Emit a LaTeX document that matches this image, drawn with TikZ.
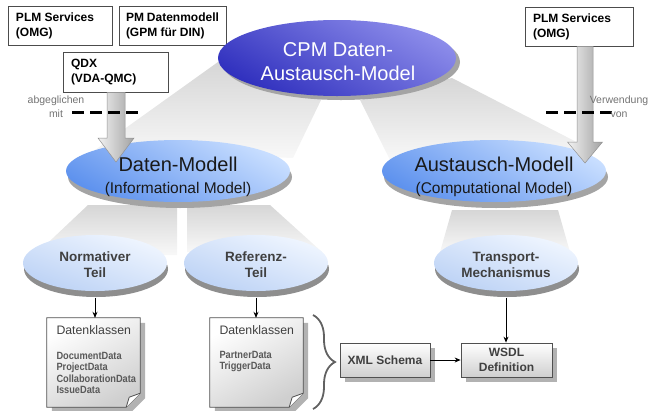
\documentclass[tikz,border=0pt]{standalone}
\usepackage{fontspec}
\setmainfont{Liberation Sans}
\newfontfamily\narrowsans[FakeStretch=0.88]{Liberation Sans}
\usetikzlibrary{shapes.geometric,shadows,calc,decorations.pathreplacing,arrows.meta}
\definecolor{cpmtop}{HTML}{8C8CEA}
\definecolor{cpmbot}{HTML}{3030BE}
\definecolor{dmtop}{HTML}{C8DEFF}
\definecolor{dmbot}{HTML}{5E92EE}
\definecolor{smtop}{HTML}{F0F6FF}
\definecolor{smbot}{HTML}{BCD2F5}
\definecolor{rim}{HTML}{A4A4A4}
\definecolor{rimdark}{HTML}{8E8E8E}
\definecolor{beamtop}{HTML}{D6D6D6}
\definecolor{beambot}{HTML}{F8F8F8}
\definecolor{txtgray}{HTML}{404040}
\definecolor{boxline}{HTML}{505050}
\definecolor{boxbot}{HTML}{CFCFCF}
\definecolor{shadowgray}{HTML}{B2B2B2}
\definecolor{arrowlight}{HTML}{F2F2F2}
\definecolor{arrowdark}{HTML}{A2A2A2}
\begin{document}
\begin{tikzpicture}[x=1pt,y=-1pt,
  topbox/.style={draw=black!70, fill=white, line width=0.8pt, inner xsep=8pt, inner ysep=0pt,
    minimum height=39pt, align=flush left, font=\bfseries\fontsize{12}{15}\selectfont},
  cpmell/.style={ellipse, inner sep=0pt, minimum width=238pt, minimum height=76pt,
    top color=cpmtop, bottom color=cpmbot, shading angle=-30,
    drop shadow={shadow xshift=4pt, shadow yshift=-4pt, fill=rim, opacity=1}},
  bigell/.style={ellipse, inner sep=0pt, minimum width=224pt, minimum height=62pt,
    top color=dmtop, bottom color=dmbot, shading angle=-30,
    drop shadow={shadow xshift=2pt, shadow yshift=-6pt, fill=rim, opacity=1}},
  smallell/.style={ellipse, inner sep=0pt, minimum width=144pt, minimum height=56pt,
    top color=smtop, bottom color=smbot, shading angle=-20,
    drop shadow={shadow xshift=1pt, shadow yshift=-6pt, fill=rimdark, opacity=1}},
  bigtext/.style={align=center, inner sep=0pt, font=\fontsize{20}{22}\selectfont},
  smalltext/.style={align=center, inner sep=0pt, text=txtgray, font=\bfseries\fontsize{13.5}{16}\selectfont},
  beam/.style={top color=beamtop, bottom color=beambot},
  bigarrow/.style={left color=arrowlight, right color=arrowdark, draw=arrowdark!90!black, line width=0.5pt},
  dashline/.style={line width=3pt, dash pattern=on 12pt off 6pt},
  sidetext/.style={align=center, inner sep=0pt, text=black!55, font=\fontsize{10.5}{14}\selectfont},
  conn/.style={line width=0.8pt, -{Stealth[length=6pt,width=5pt]}},
  docbox/.style={draw=none, inner sep=0pt, minimum width=93pt, minimum height=89pt},
  docshape/.style={draw=boxline, line width=0.8pt, top color=white, bottom color=boxbot, shading angle=30},
  doctitle/.style={anchor=base west, inner sep=0pt, text=txtgray, font=\fontsize{12.3}{14}\selectfont},
  docitems/.style={anchor=north west, inner sep=0pt, align=left, text=black!65,
    font=\narrowsans\bfseries\fontsize{10.5}{11.5}\selectfont},
  flowbox/.style={draw=boxline, line width=0.8pt, top color=white, bottom color=boxbot,
    minimum height=34pt, inner sep=0pt, align=center, text=txtgray,
    font=\bfseries\fontsize{12}{15}\selectfont,
    drop shadow={shadow xshift=5pt, shadow yshift=-5pt, fill=shadowgray, opacity=1}},
  bracestyle/.style={draw=black!62, line width=1.8pt, decorate, decoration={brace, amplitude=22pt}}
]
\useasboundingbox (0,0) rectangle (650,410);

% light grey "beams"
\shade[beam] (218,62) -- (322,98) -- (293,158) -- (95,150) -- cycle;
\shade[beam] (360,100) -- (452,78) -- (592,150) -- (390,160) -- cycle;
\shade[beam] (88,205) -- (177,205) -- (177,255) -- (35,255) -- cycle;
\shade[beam] (187,205) -- (270,205) -- (322,252) -- (187,252) -- cycle;
\shade[beam] (452,210) -- (558,210) -- (570,252) -- (440,252) -- cycle;

% top boxes
\node[topbox, minimum width=104pt, text width=88pt] (plml) at (60,25.5) {PLM Services\\(OMG)};
\node[topbox, minimum width=107pt, text width=93pt, inner xsep=7pt] (pmd) at (172.5,25.5) {PM Datenmodell\\(GPM f\"ur DIN)};
\node[topbox, minimum width=105pt, text width=89pt, minimum height=40pt] (qdx) at (115.5,72) {QDX\\(VDA-QMC)};
\node[topbox, minimum width=108pt, text width=92pt] (plmr) at (579,26.5) {PLM Services\\(OMG)};

% main ellipses
\node[cpmell] (cpm) at (337,58) {};
\node[bigtext, text=white, font=\fontsize{20}{24}\selectfont] (cpmt) at (338,62) {CPM Daten-\\Austausch-Model};

\node[bigell] (dm) at (178,171) {};
\node[bigtext, text=black!90, font=\fontsize{20}{22.5}\selectfont] (dmt) at (178,177) {Daten-Modell\\{\fontsize{15.5}{18}\selectfont (Informational Model)}};
\node[bigell] (am) at (494,171) {};
\node[bigtext, text=black!90, font=\fontsize{20}{22.5}\selectfont] (amt) at (494,177) {Austausch-Modell\\{\fontsize{15.5}{18}\selectfont (Computational Model)}};

\node[smallell] (nt) at (95,263) {};
\node[smalltext] (ntt) at (95,265) {Normativer\\Teil};
\node[smallell] (rt) at (256,263) {};
\node[smalltext] (rtt) at (256,265) {Referenz-\\Teil};
\node[smallell] (tm) at (506,263) {};
\node[smalltext] (tmt) at (506,265) {Transport-\\Mechanismus};

% grey block arrows
\coordinate (qtip) at (116,162);
\shade[bigarrow] ($(qdx.south)+(-8.5,0)$) -- ($(qdx.south)+(9.5,0)$) -- ($(qtip)+(9,-24)$)
  -- ($(qtip)+(18,-24)$) -- (qtip) -- ($(qtip)+(-18,-24)$) -- ($(qtip)+(-9,-24)$) -- cycle;
\coordinate (ptip) at (585,163);
\shade[bigarrow] ($(plmr.south)+(-2,0)$) -- ($(plmr.south)+(14,0)$) -- ($(ptip)+(8,-21)$)
  -- ($(ptip)+(17.5,-21)$) -- (ptip) -- ($(ptip)+(-17.5,-21)$) -- ($(ptip)+(-8,-21)$) -- cycle;

% dashed lines and side texts
\coordinate (dl1) at (72,112); \coordinate (dl2) at (140,112);
\draw[dashline] (dl1) -- (dl2);
\coordinate (dr1) at (546,112); \coordinate (dr2) at (614,112);
\draw[dashline] (dr1) -- (dr2);
\node[sidetext] (abg) at (56,107) {abgeglichen\\mit};
\node[sidetext] (verw) at (619,107) {Verwendung\\von};

% documents
\node[docbox] (d1) at (93.5,362.5) {};
\fill[shadowgray] ($(d1.north west)+(5,5)$) -- ($(d1.north east)+(5,5)$) -- ($(d1.south east)+(5,-9)$)
  -- ($(d1.south east)+(-9,5)$) -- ($(d1.south west)+(5,5)$) -- cycle;
\shade[docshape] (d1.north west) -- (d1.north east) -- ($(d1.south east)+(0,-14)$)
  -- ($(d1.south east)+(-14,0)$) -- (d1.south west) -- cycle;
\draw[boxline, line width=0.8pt, fill=white] ($(d1.south east)+(0,-14)$) -- ($(d1.south east)+(-11,-10)$)
  -- ($(d1.south east)+(-14,0)$);
\node[doctitle] (d1t) at ($(d1.north west)+(9.5,16.5)$) {Datenklassen};
\node[docitems] (d1i) at ($(d1.north west)+(9.5,34)$) {DocumentData\\ProjectData\\CollaborationData\\IssueData};

\node[docbox] (d2) at (256.5,362.5) {};
\fill[shadowgray] ($(d2.north west)+(5,5)$) -- ($(d2.north east)+(5,5)$) -- ($(d2.south east)+(5,-9)$)
  -- ($(d2.south east)+(-9,5)$) -- ($(d2.south west)+(5,5)$) -- cycle;
\shade[docshape] (d2.north west) -- (d2.north east) -- ($(d2.south east)+(0,-14)$)
  -- ($(d2.south east)+(-14,0)$) -- (d2.south west) -- cycle;
\draw[boxline, line width=0.8pt, fill=white] ($(d2.south east)+(0,-14)$) -- ($(d2.south east)+(-11,-10)$)
  -- ($(d2.south east)+(-14,0)$);
\node[doctitle] (d2t) at ($(d2.north west)+(9.5,16.5)$) {Datenklassen};
\node[docitems] (d2i) at ($(d2.north west)+(9.5,33)$) {PartnerData\\TriggerData};

% brace
\coordinate (b1) at (313,315); \coordinate (b2) at (313,409);
\draw[bracestyle] (b1) -- (b2);

% flow boxes
\node[flowbox, minimum width=90pt] (xml) at (385,360) {XML Schema};
\node[flowbox, minimum width=91pt] (wsdl) at (506.5,360) {WSDL\\Definition};

% connectors
\draw[conn, shorten <=7pt] (nt.south) -- (nt.south |- d1.north);
\draw[conn, shorten <=7pt] (rt.south) -- (rt.south |- d2.north);
\draw[conn, shorten <=7pt] (tm.south) -- (tm.south |- wsdl.north);
\draw[conn] (xml.east) -- (wsdl.west);
\end{tikzpicture}
\end{document}
